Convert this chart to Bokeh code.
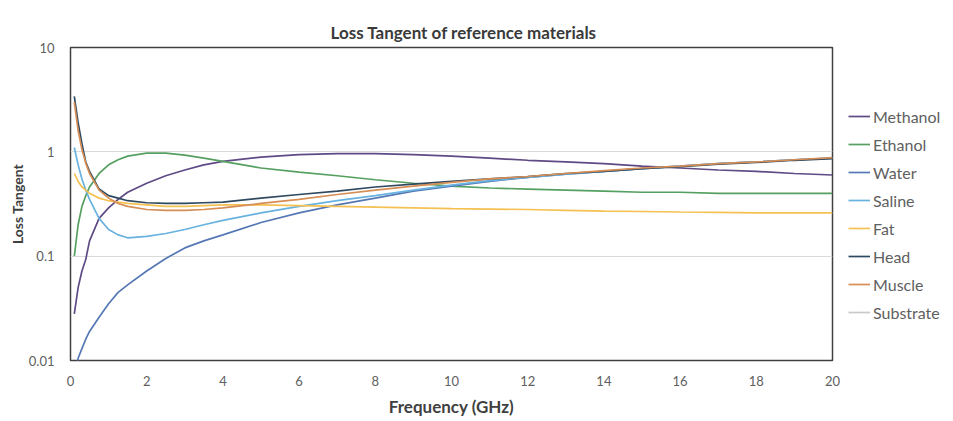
from bokeh.plotting import figure
from bokeh.models import Legend, LegendItem, FixedTicker, CustomJSTickFormatter, ColumnDataSource
from bokeh.embed import file_html
from bokeh.resources import INLINE

freq = [0.1, 0.2, 0.3, 0.4, 0.5, 0.75, 1.0, 1.25, 1.5, 2.0, 2.5, 3.0, 3.5, 4.0, 5.0, 6.0,
        7.0, 8.0, 9.0, 10.0, 11.0, 12.0, 13.0, 14.0, 15.0, 16.0, 17.0, 18.0, 19.0, 20.0]

methanol = [0.028, 0.05, 0.072, 0.093, 0.14, 0.23, 0.29, 0.35, 0.41, 0.50, 0.59, 0.67, 0.75, 0.81, 0.89, 0.94,
            0.96, 0.96, 0.94, 0.91, 0.87, 0.83, 0.80, 0.77, 0.73, 0.70, 0.67, 0.65, 0.62, 0.60]
ethanol = [0.10, 0.20, 0.30, 0.38, 0.46, 0.62, 0.75, 0.84, 0.91, 0.97, 0.97, 0.93, 0.87, 0.81, 0.70, 0.64,
           0.59, 0.54, 0.50, 0.47, 0.45, 0.44, 0.43, 0.42, 0.41, 0.41, 0.40, 0.40, 0.40, 0.40]
water = [0.006, 0.0105, 0.013, 0.016, 0.019, 0.026, 0.035, 0.045, 0.053, 0.072, 0.095, 0.12, 0.14, 0.16, 0.21, 0.26,
         0.31, 0.36, 0.42, 0.47, 0.52, 0.57, 0.61, 0.65, 0.69, 0.73, 0.77, 0.80, 0.84, 0.87]
saline = [1.1, 0.75, 0.55, 0.43, 0.35, 0.23, 0.18, 0.16, 0.15, 0.155, 0.165, 0.18, 0.20, 0.22, 0.26, 0.30,
          0.34, 0.38, 0.43, 0.48, 0.53, 0.57, 0.61, 0.65, 0.69, 0.73, 0.77, 0.80, 0.84, 0.87]
fat = [0.62, 0.52, 0.46, 0.43, 0.40, 0.36, 0.34, 0.33, 0.32, 0.31, 0.30, 0.30, 0.305, 0.31, 0.31, 0.305,
       0.30, 0.295, 0.29, 0.285, 0.283, 0.28, 0.275, 0.27, 0.268, 0.265, 0.263, 0.26, 0.26, 0.26]
head = [3.4, 1.9, 1.2, 0.80, 0.65, 0.44, 0.38, 0.36, 0.34, 0.325, 0.32, 0.32, 0.325, 0.33, 0.36, 0.39,
        0.42, 0.46, 0.49, 0.52, 0.55, 0.58, 0.62, 0.65, 0.69, 0.72, 0.76, 0.79, 0.83, 0.86]
muscle = [3.0, 1.6, 1.05, 0.78, 0.62, 0.43, 0.36, 0.32, 0.30, 0.28, 0.275, 0.275, 0.28, 0.29, 0.32, 0.35,
          0.39, 0.43, 0.47, 0.51, 0.55, 0.58, 0.62, 0.66, 0.70, 0.73, 0.77, 0.80, 0.84, 0.88]
substrate = [0.004] * len(freq)

names = ["Methanol", "Ethanol", "Water", "Saline", "Fat", "Head", "Muscle", "Substrate"]
series = [methanol, ethanol, water, saline, fat, head, muscle, substrate]
colors = ["#5f4a85", "#55a060", "#5578b5", "#68b2df", "#f4c152", "#2f4a60", "#d68e55", "#c8c8c8"]

x_ticks = [0, 2, 4, 6, 8, 10, 12, 14, 16, 18, 20]
y_ticks = [0.01, 0.1, 1, 10]

FONT = "Lato"
TXT = "#606060"

p = figure(frame_width=762, frame_height=313, x_range=(0, 20), y_range=(0.01, 10), y_axis_type="log",
           output_backend="svg", toolbar_location=None,
           min_border_left=70, min_border_right=0, min_border_top=47, min_border_bottom=60)

p.title.text = "Loss Tangent of reference materials"
p.title.align = "left"
p.title.text_font = FONT
p.title.text_font_size = "17px"
p.title.text_font_style = "bold"
p.title.text_color = "#3a3a3a"
p.title.offset = 260
p.title.standoff = 9

p.outline_line_color = "#404040"
p.outline_line_width = 1.5
p.background_fill_color = "white"
p.border_fill_color = "white"

p.xgrid.visible = False
p.ygrid.ticker = FixedTicker(ticks=[0.1, 1])
p.ygrid.grid_line_color = "#d9d9d9"
p.ygrid.grid_line_width = 1

for ax in (p.xaxis[0], p.yaxis[0]):
    ax.axis_line_color = None
    ax.major_tick_line_color = None
    ax.minor_tick_line_color = None
    ax.major_tick_out = 0
    ax.major_tick_in = 0
    ax.minor_tick_out = 0
    ax.major_label_text_font = FONT
    ax.major_label_text_font_size = "13px"
    ax.major_label_text_color = TXT
    ax.axis_label_text_font = FONT
    ax.axis_label_text_font_style = "bold"
    ax.axis_label_text_color = "#404040"

p.xaxis.ticker = FixedTicker(ticks=x_ticks)
p.xaxis.major_label_standoff = 15
p.xaxis.axis_label = "Frequency (GHz)"
p.xaxis.axis_label_text_font_size = "17px"
p.xaxis.axis_label_standoff = 7

p.yaxis.ticker = FixedTicker(ticks=y_ticks)
p.yaxis.formatter = CustomJSTickFormatter(code="return tick.toString();")
p.yaxis.major_label_standoff = 16
p.yaxis.axis_label = "Loss Tangent"
p.yaxis.axis_label_text_font_size = "14px"
p.yaxis.axis_label_standoff = 0

items = []
for name, vals, col in zip(names, series, colors):
    src = ColumnDataSource(dict(x=freq, y=vals))
    r = p.line("x", "y", source=src, line_color=col, line_width=1.7)
    items.append(LegendItem(label=name, renderers=[r]))

legend = Legend(items=items, location=(16, 38), orientation="vertical",
                border_line_color=None, background_fill_alpha=0,
                padding=0, margin=0, spacing=8, glyph_width=22, glyph_height=20,
                label_height=20, label_standoff=3,
                label_text_font=FONT, label_text_font_size="16px", label_text_color=TXT)
p.add_layout(legend, "right")

open("out.html", "w").write(file_html(p, INLINE))
